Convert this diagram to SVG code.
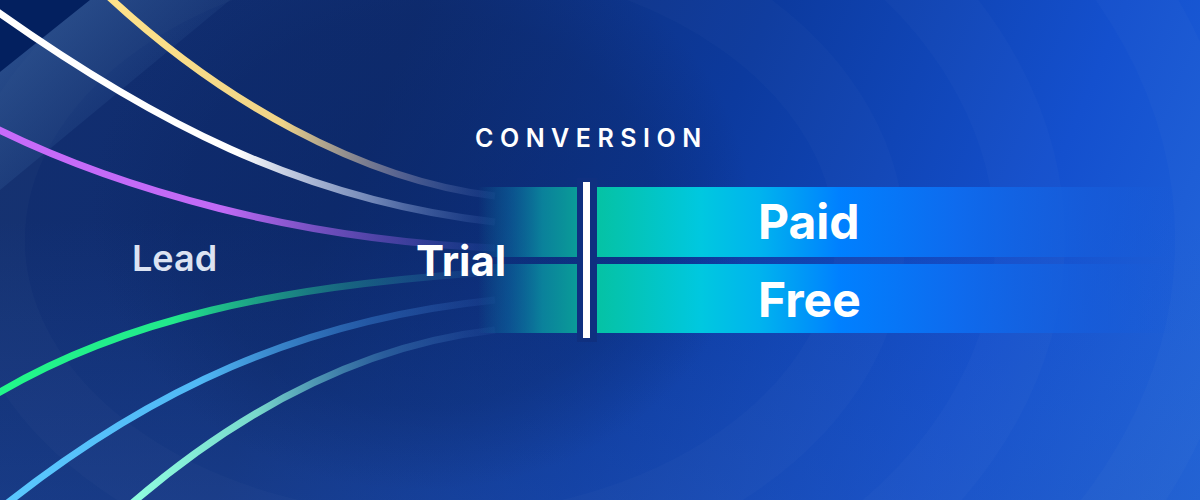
<svg xmlns="http://www.w3.org/2000/svg" width="1200" height="500" viewBox="0 0 1200 500">
  <defs>
    <linearGradient id="bg" x1="0" y1="0" x2="1200" y2="500" gradientUnits="userSpaceOnUse">
      <stop offset="0" stop-color="#122E6E"/>
      <stop offset="0.3" stop-color="#0F2D72"/>
      <stop offset="0.55" stop-color="#0C3A9E"/>
      <stop offset="0.8" stop-color="#1450CE"/>
      <stop offset="1" stop-color="#2066DE"/>
    </linearGradient>
    <linearGradient id="lower" x1="0" y1="220" x2="0" y2="500" gradientUnits="userSpaceOnUse">
      <stop offset="0" stop-color="#2A5AB8" stop-opacity="0"/>
      <stop offset="1" stop-color="#2A5AB8" stop-opacity="0.3"/>
    </linearGradient>
    <radialGradient id="shade" cx="420" cy="210" r="330" gradientUnits="userSpaceOnUse" gradientTransform="translate(420 210) scale(1 0.85) translate(-420 -210)">
      <stop offset="0" stop-color="#0A2460" stop-opacity="0.45"/>
      <stop offset="0.7" stop-color="#0A2460" stop-opacity="0.3"/>
      <stop offset="1" stop-color="#0A2460" stop-opacity="0"/>
    </radialGradient>
    <linearGradient id="band" x1="20" y1="20" x2="140" y2="140" gradientUnits="userSpaceOnUse">
      <stop offset="0" stop-color="#3A64A0" stop-opacity="0.6"/>
      <stop offset="1" stop-color="#3A64A0" stop-opacity="0"/>
    </linearGradient>
    <linearGradient id="leftBlock" x1="478" y1="0" x2="577" y2="0" gradientUnits="userSpaceOnUse">
      <stop offset="0" stop-color="#0A7AA0" stop-opacity="0"/>
      <stop offset="0.3" stop-color="#0A6EA0" stop-opacity="0.5"/>
      <stop offset="0.65" stop-color="#0A8A9E" stop-opacity="0.9"/>
      <stop offset="1" stop-color="#0A9C98"/>
    </linearGradient>
    <linearGradient id="rightBlock" x1="597" y1="0" x2="1175" y2="0" gradientUnits="userSpaceOnUse">
      <stop offset="0" stop-color="#05C2A4"/>
      <stop offset="0.18" stop-color="#00C8E0"/>
      <stop offset="0.28" stop-color="#00B4EE"/>
      <stop offset="0.42" stop-color="#0080FF"/>
      <stop offset="0.62" stop-color="#0E6BEE"/>
      <stop offset="0.85" stop-color="#165DDB" stop-opacity="0.75"/>
      <stop offset="1" stop-color="#165DDB" stop-opacity="0"/>
    </linearGradient>
    <linearGradient id="gYellow" x1="108" y1="0" x2="495" y2="0" gradientUnits="userSpaceOnUse">
      <stop offset="0" stop-color="#FFE38A"/>
      <stop offset="0.45" stop-color="#F0D488"/>
      <stop offset="0.75" stop-color="#8A8AA8" stop-opacity="0.6"/>
      <stop offset="1" stop-color="#4A6FC0" stop-opacity="0.1"/>
    </linearGradient>
    <linearGradient id="gWhite" x1="0" y1="0" x2="495" y2="0" gradientUnits="userSpaceOnUse">
      <stop offset="0" stop-color="#FFFFFF"/>
      <stop offset="0.48" stop-color="#FFFFFF"/>
      <stop offset="0.75" stop-color="#9EB0D8" stop-opacity="0.7"/>
      <stop offset="1" stop-color="#4A6FC0" stop-opacity="0.1"/>
    </linearGradient>
    <linearGradient id="gPurple" x1="0" y1="0" x2="495" y2="0" gradientUnits="userSpaceOnUse">
      <stop offset="0" stop-color="#C86BFA"/>
      <stop offset="0.45" stop-color="#C06AF5"/>
      <stop offset="0.8" stop-color="#6A4EC0" stop-opacity="0.6"/>
      <stop offset="1" stop-color="#3A5AC0" stop-opacity="0.1"/>
    </linearGradient>
    <linearGradient id="gGreen" x1="0" y1="0" x2="495" y2="0" gradientUnits="userSpaceOnUse">
      <stop offset="0" stop-color="#22F88A"/>
      <stop offset="0.35" stop-color="#22E88C"/>
      <stop offset="0.7" stop-color="#1E8A8A" stop-opacity="0.6"/>
      <stop offset="1" stop-color="#2A6AB0" stop-opacity="0.1"/>
    </linearGradient>
    <linearGradient id="gBlue" x1="5" y1="0" x2="495" y2="0" gradientUnits="userSpaceOnUse">
      <stop offset="0" stop-color="#5AC8FF"/>
      <stop offset="0.4" stop-color="#50B8F5"/>
      <stop offset="0.75" stop-color="#3070C0" stop-opacity="0.6"/>
      <stop offset="1" stop-color="#3A6AC0" stop-opacity="0.1"/>
    </linearGradient>
    <linearGradient id="gMint" x1="130" y1="0" x2="495" y2="0" gradientUnits="userSpaceOnUse">
      <stop offset="0" stop-color="#8FFFE0"/>
      <stop offset="0.35" stop-color="#78D8CC"/>
      <stop offset="0.7" stop-color="#3A78B0" stop-opacity="0.6"/>
      <stop offset="1" stop-color="#3A6AC0" stop-opacity="0.1"/>
    </linearGradient>
    <style>
      .curve { fill: none; stroke-width: 7; stroke-linecap: butt; }
      .arc { fill: none; stroke: #ffffff; stroke-opacity: 0.018; stroke-width: 70; }
      .big { font-family: Inter, "Liberation Sans", sans-serif; font-weight: 700; fill: #ffffff; }
    </style>
  </defs>

  <!-- background -->
  <rect x="0" y="0" width="1200" height="500" fill="url(#bg)"/>
  <rect x="0" y="0" width="1200" height="500" fill="url(#lower)"/>
  <rect x="0" y="0" width="1200" height="500" fill="url(#shade)"/>
  <ellipse class="arc" cx="430" cy="240" rx="440" ry="310"/>
  <ellipse class="arc" cx="430" cy="240" rx="600" ry="440"/>
  <ellipse class="arc" cx="430" cy="240" rx="780" ry="570"/>
  <polygon points="0,0 90,0 0,72" fill="#03205F"/>
  <polygon points="90,0 230,0 0,190 0,72" fill="url(#band)"/>

  <!-- connectors: flow curves -->
  <g id="connectors">
    <path class="curve" stroke="url(#gYellow)" d="M108,-4 C220,100 360,180 495,196"/>
    <path class="curve" stroke="url(#gWhite)" d="M-5,10 C150,120 300,200 495,222"/>
    <path class="curve" stroke="url(#gPurple)" d="M-5,128 C120,190 300,240 495,248"/>
    <path class="curve" stroke="url(#gGreen)" d="M-5,395 C120,320 280,285 495,272"/>
    <path class="curve" stroke="url(#gBlue)" d="M5,505 C150,390 300,320 495,300"/>
    <path class="curve" stroke="url(#gMint)" d="M130,505 C240,410 360,345 495,330"/>
  </g>

  <!-- trial block -->
  <g id="trial-block">
    <rect x="478" y="187" width="99" height="70" fill="url(#leftBlock)"/>
    <rect x="478" y="264" width="99" height="69" fill="url(#leftBlock)"/>
  </g>

  <!-- conversion divider -->
  <g id="divider">
    <rect x="577" y="178" width="20" height="164" fill="#0F3080"/>
    <rect x="583" y="182" width="7" height="156" fill="#ffffff"/>
  </g>

  <g id="paid">
    <rect x="597" y="187" width="578" height="70" fill="url(#rightBlock)"/>
    <text class="big" x="758" y="239" font-size="48">Paid</text>
  </g>
  <g id="free">
    <rect x="597" y="264" width="578" height="69" fill="url(#rightBlock)"/>
    <text class="big" x="758" y="317" font-size="48">Free</text>
  </g>

  <g id="lead">
    <text x="132" y="271" font-family="Inter, 'Liberation Sans', sans-serif" font-weight="600" font-size="36" fill="#DCE3F2">Lead</text>
  </g>
  <g id="trial">
    <text class="big" x="416" y="276" font-size="42">Trial</text>
  </g>
  <g id="conversion">
    <text x="475" y="147" font-family="Inter, 'Liberation Sans', sans-serif" font-weight="600" font-size="25" letter-spacing="6.5" fill="#ffffff">CONVERSION</text>
  </g>
</svg>
